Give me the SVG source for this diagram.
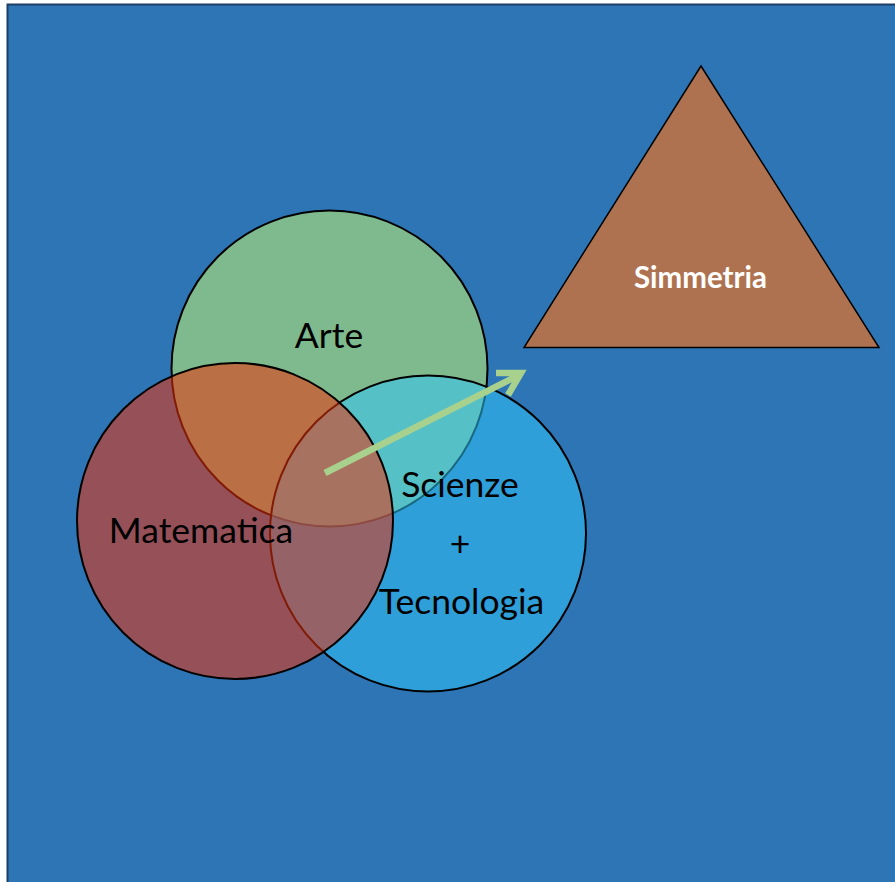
<svg xmlns="http://www.w3.org/2000/svg" width="895" height="882" viewBox="0 0 895 882">
  <defs>
    <style>
      .lbl { font-family: Lato, "Open Sans", "Liberation Sans", sans-serif; font-size: 35.5px; fill: #000; text-anchor: middle; }
      .circ { stroke: #000; stroke-width: 2; }
    </style>
  </defs>
  <rect x="0" y="0" width="895" height="882" fill="#ffffff"/>
  <rect x="7.5" y="4.5" width="900" height="900" fill="#2E75B6" stroke="#1d3f63" stroke-width="2"/>

  <g id="arte">
    <circle class="circ" cx="329.5" cy="368.5" r="158" fill="#7EBA8D"/>
  </g>
  <g id="scienze">
    <circle class="circ" cx="428" cy="533.5" r="158" fill="rgb(48,197,247)" fill-opacity="0.525"/>
  </g>
  <g id="matematica">
    <circle class="circ" cx="235" cy="521" r="158" fill="rgb(235,50,11)" fill-opacity="0.55"/>
  </g>

  <g id="simmetria">
    <polygon points="701,66 524,347.5 879,347.5" fill="#AE7250" stroke="#000" stroke-width="1.5" stroke-linejoin="miter"/>
    <text x="700.5" y="288" font-family="Lato, 'Open Sans', 'Liberation Sans', sans-serif" font-size="29.5" font-weight="bold" fill="#ffffff" text-anchor="middle">Simmetria</text>
  </g>

  <g id="labels">
    <text class="lbl" x="329" y="348">Arte</text>
    <text class="lbl" x="201" y="543">Matematica</text>
    <text class="lbl" x="460" y="497">Scienze</text>
    <text class="lbl" x="460" y="556">+</text>
    <text class="lbl" x="461.5" y="614">Tecnologia</text>
  </g>

  <g id="connectors" fill="none" stroke="#A9D18E" stroke-width="6.5" stroke-linecap="butt" stroke-linejoin="miter">
    <line x1="325" y1="473" x2="519" y2="375"/>
    <polyline points="496,373 521,373 508,395"/>
  </g>
</svg>
